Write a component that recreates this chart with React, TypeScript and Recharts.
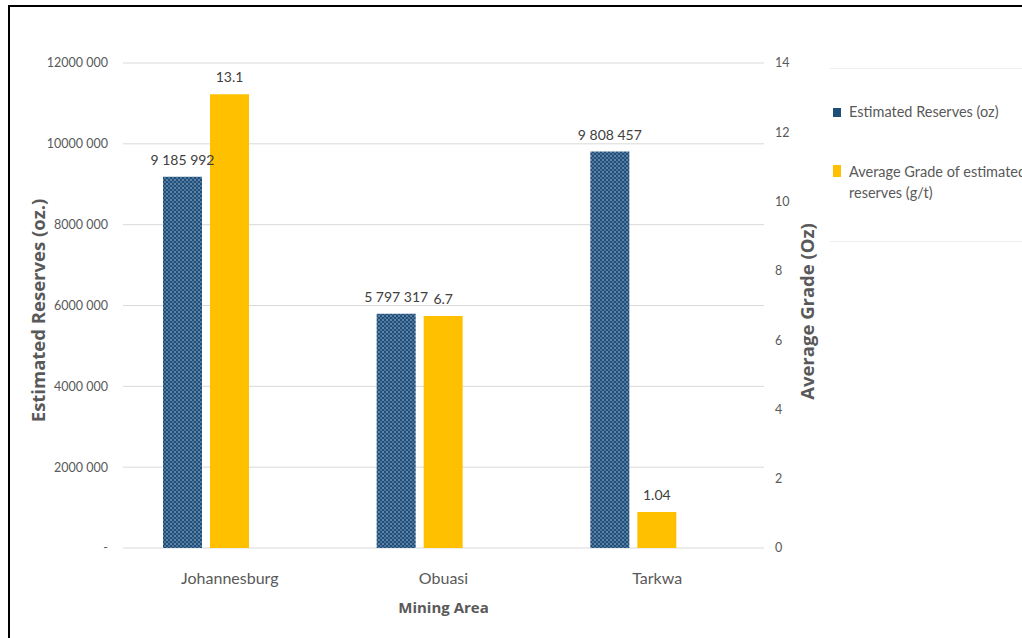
import React from 'react';
import { BarChart, Bar, XAxis, YAxis, CartesianGrid, LabelList } from 'recharts';

const areas = ['Johannesburg', 'Obuasi', 'Tarkwa'];
const reserves = [9185992, 5797317, 9808457];
const grades = [13.1, 6.7, 1.04];
const reserveTicks = [0, 2000000, 4000000, 6000000, 8000000, 10000000, 12000000];
const gradeTicks = [0, 2, 4, 6, 8, 10, 12, 14];
const seriesNames = ['Estimated Reserves (oz)', 'Average Grade of estimated reserves (g/t)'];
const seriesColors = ['#1F4E79', '#FFC000'];
const axisTitles = ['Estimated Reserves (oz.)', 'Average Grade (Oz)', 'Mining Area'];

const data = areas.map((a, i) => ({ area: a, reserves: reserves[i], grade: grades[i] }));

const REG = "Lato, 'Open Sans', sans-serif";
const BOLD = "'Open Sans', 'DejaVu Sans', sans-serif";
const TEXT = '#595959';

const fmtTick = (v: number) => (v === 0 ? '-' : `${Math.floor(v / 1000)} 000`);
const fmtReserve = (v: number) => String(v).replace(/\B(?=(\d{3})+(?!\d))/g, ' ');
const fmtGrade = (v: number) => String(v);

const makeLabel = (fmt: (v: number) => string, offset: number) => (props: any) => {
  const { x, y, width, value } = props;
  return (
    <text x={Number(x) + Number(width) / 2} y={Number(y) - offset} textAnchor="middle"
      fill="#404040" fontFamily={REG} fontSize={14}>{fmt(Number(value))}</text>
  );
};

const LeftTitle = (props: any) => {
  const { viewBox } = props;
  const cx = viewBox.x + 14;
  const cy = viewBox.y + viewBox.height / 2 + 5;
  return (
    <text x={cx} y={cy} transform={`rotate(-90, ${cx}, ${cy})`} textAnchor="middle" dominantBaseline="central"
      fill={TEXT} fontFamily={BOLD} fontWeight={700} fontSize={18.5}>{axisTitles[0]}</text>
  );
};
const RightTitle = (props: any) => {
  const { viewBox } = props;
  const cx = viewBox.x + 42;
  const cy = viewBox.y + viewBox.height / 2 + 6;
  return (
    <text x={cx} y={cy} transform={`rotate(-90, ${cx}, ${cy})`} textAnchor="middle" dominantBaseline="central"
      fill={TEXT} fontFamily={BOLD} fontWeight={700} fontSize={18.5}>{axisTitles[1]}</text>
  );
};
const BottomTitle = (props: any) => {
  const { viewBox } = props;
  const cx = viewBox.x + viewBox.width / 2;
  const cy = viewBox.y + 59;
  return (
    <text x={cx} y={cy} textAnchor="middle" dominantBaseline="central"
      fill={TEXT} fontFamily={BOLD} fontWeight={700} fontSize={15}>{axisTitles[2]}</text>
  );
};

export default function App() {
  return (
    <div style={{ position: 'absolute', left: 8, top: 5, width: 1012, height: 631, borderTop: '2px solid #000', borderLeft: '2px solid #000', overflow: 'hidden', background: '#fff' }}>
      <div style={{ position: 'absolute', left: 0, top: 0 }}>
        <BarChart width={1014} height={633} data={data} margin={{ top: 56, right: 200, bottom: 22, left: 13 }} barGap={8}>
          <defs>
            <pattern id="dots" width="4" height="4" patternUnits="userSpaceOnUse">
              <rect width="4" height="4" fill="#1F4E79" />
              <circle cx="1" cy="1" r="0.75" fill="#c3d5ea" />
              <circle cx="3" cy="3" r="0.75" fill="#8fb0d4" />
            </pattern>
          </defs>
          <CartesianGrid vertical={false} stroke="#d9d9d9" xAxisId="labels" yAxisId="left" />
          <XAxis xAxisId="labels" dataKey="area" height={70} tickLine={false} tickSize={0} tickMargin={25}
            axisLine={false} tick={{ fill: TEXT, fontFamily: REG, fontSize: 16 }} label={<BottomTitle />} />
          <XAxis xAxisId="bars" dataKey="area" hide orientation="top" height={0} padding={{ left: -24, right: 24 }} />
          <YAxis yAxisId="left" orientation="left" width={100} domain={[0, 12000000]} ticks={reserveTicks}
            tickFormatter={fmtTick} axisLine={false} tickLine={false} tickSize={0} tickMargin={15}
            tick={{ fill: TEXT, fontFamily: REG, fontSize: 12.5 }} label={<LeftTitle />} />
          <YAxis yAxisId="right" orientation="right" width={60} domain={[0, 14]} ticks={gradeTicks}
            axisLine={false} tickLine={false} tickSize={0} tickMargin={11}
            tick={{ fill: TEXT, fontFamily: REG, fontSize: 12.5 }} label={<RightTitle />} />
          <Bar dataKey="reserves" name={seriesNames[0]} xAxisId="bars" yAxisId="left" fill="url(#dots)" barSize={39} isAnimationActive={false}>
            <LabelList dataKey="reserves" content={makeLabel(fmtReserve, 12)} />
          </Bar>
          <Bar dataKey="grade" name={seriesNames[1]} xAxisId="bars" yAxisId="right" fill={seriesColors[1]} barSize={39} isAnimationActive={false}>
            <LabelList dataKey="grade" content={makeLabel(fmtGrade, 12)} />
          </Bar>
        </BarChart>
      </div>
      <div style={{ position: 'absolute', left: 820, top: 61, width: 300, height: 172, borderTop: '1px solid #eeeeee', borderBottom: '1px solid #eeeeee' }} />
      <div style={{ position: 'absolute', left: 823, top: 94, width: 300, fontFamily: REG, fontSize: 14.5, color: TEXT, lineHeight: '21px' }}>
        <div style={{ display: 'flex', alignItems: 'flex-start' }}>
          <span style={{ display: 'inline-block', flex: 'none', width: 8, height: 9, marginTop: 7, marginRight: 8, background: seriesColors[0] }} />
          <span style={{ whiteSpace: 'nowrap' }}>{seriesNames[0]}</span>
        </div>
        <div style={{ display: 'flex', alignItems: 'flex-start', marginTop: 39 }}>
          <span style={{ display: 'inline-block', flex: 'none', width: 8, height: 12, marginTop: 4, marginRight: 8, background: seriesColors[1] }} />
          <span style={{ width: 185 }}>{seriesNames[1]}</span>
        </div>
      </div>
    </div>
  );
}
